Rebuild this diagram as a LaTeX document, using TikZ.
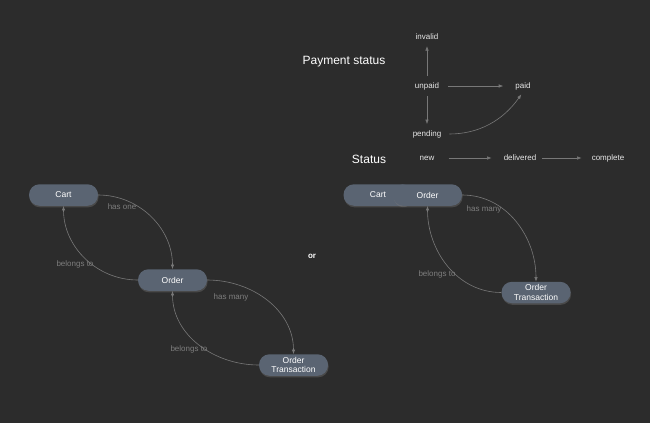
\documentclass[tikz,border=0pt]{standalone}
\usepackage{fontspec}
\setmainfont{Liberation Sans}
\usepackage{tikz}
\usetikzlibrary{arrows.meta,shadows}
\definecolor{bgc}{HTML}{2C2C2C}
\definecolor{boxc}{HTML}{5A6472}
\definecolor{linec}{HTML}{787878}
\definecolor{labc}{HTML}{7E7E7E}
\definecolor{statec}{HTML}{E8E8E8}

\begin{document}
\begin{tikzpicture}[x=1pt, y=1pt,
  model/.style={fill=boxc, rounded corners=10.5pt, minimum width=69pt, minimum height=21.5pt, align=center, text=white, font=\fontsize{8.5}{9.5}\selectfont, inner sep=1pt, drop shadow={opacity=0.35, shadow xshift=0.6pt, shadow yshift=-1.6pt}},
  state/.style={text=statec, font=\fontsize{8}{9}\selectfont, inner sep=2pt},
  head/.style={text=white, font=\fontsize{12}{14}\selectfont, inner sep=0pt},
  lab/.style={text=labc, font=\fontsize{8}{9}\selectfont, inner sep=0pt},
  arrow/.style={-{Latex[length=4.5pt,width=3.5pt]}, draw=linec, line width=0.6pt}
]
\fill[bgc] (0,0) rectangle (650,-423);
\useasboundingbox (0,0) rectangle (650,-423);

\node[model] (cart) at (63.5,-195) {Cart};
\node[model] (order) at (172.5,-280) {Order};
\node[model] (trans) at (293.5,-365) {Order\\Transaction};

\draw[arrow] (cart.east) to[out=0,in=90] (order.north);
\draw[arrow] (order.west) to[out=180,in=-90] (cart.south);
\draw[arrow] (order.east) to[out=0,in=90] (trans.north);
\draw[arrow] (trans.west) to[out=180,in=-90] (order.south);

\node[lab] (hasone) at (122,-207) {has one};
\node[lab] (belcart) at (75,-264) {belongs to};
\node[lab] (hasmany) at (231,-297) {has many};
\node[lab] (belorder) at (189,-349) {belongs to};

\node[text=white, font=\bfseries\fontsize{8}{9}\selectfont] (or) at (312,-256) {or};

\node[model] (cart2) at (378,-195) {Cart\hspace*{0pt}};
\node[model] (order2) at (427.5,-195) {Order};
\node[model] (trans2) at (536,-292.5) {Order\\Transaction};

\draw[arrow] (order2.east) to[out=0,in=90] (trans2.north);
\draw[arrow] (trans2.west) to[out=180,in=-90] (order2.south);

\node[lab] (hasmany2) at (484,-209) {has many};
\node[lab] (belorder2) at (437,-274) {belongs to};

\node[head] (paytitle) at (344,-62) {Payment status};
\node[head] (stattitle) at (369,-159) {Status};

\node[state] (invalid) at (427,-37) {invalid};
\node[state] (unpaid) at (427,-86) {unpaid};
\node[state] (paid) at (523,-86) {paid};
\node[state] (pending) at (427,-134) {pending};
\node[state] (new) at (427,-158) {new};
\node[state] (delivered) at (520,-158) {delivered};
\node[state] (complete) at (608,-158) {complete};

\draw[arrow, shorten <=4pt, shorten >=4pt] (unpaid.north) -- (invalid.south);
\draw[arrow, shorten <=4pt, shorten >=4pt] (unpaid.south) -- (pending.north);
\draw[arrow, shorten <=7pt, shorten >=10pt] (unpaid.east) -- (paid.west);
\draw[arrow, shorten <=6pt, shorten >=3pt] (pending.east) to[out=0,in=235] (paid.south);
\draw[arrow, shorten <=12pt, shorten >=10pt] (new.east) -- (delivered.west);
\draw[arrow, shorten <=4pt, shorten >=8pt] (delivered.east) -- (complete.west);
\end{tikzpicture}
\end{document}
